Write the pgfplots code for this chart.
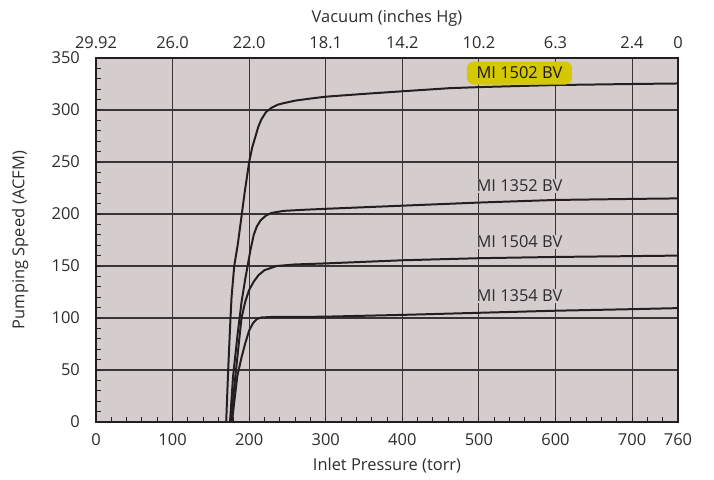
\documentclass[border=0pt]{standalone}
\usepackage{fontspec}
\setmainfont{Open Sans}
\usepackage{pgfplots}
\pgfplotsset{compat=1.18}

\definecolor{plotbg}{RGB}{213,204,206}
\definecolor{hl}{RGB}{212,200,0}
\definecolor{ink}{RGB}{35,31,32}
\definecolor{txt}{RGB}{45,45,45}

\begin{document}
\begin{tikzpicture}
  \pgfplotsset{every axis/.style={
      scale only axis, width=582bp, height=364bp,
      xmin=0, xmax=760, ymin=0, ymax=350,
      font=\fontsize{16.5}{19}\selectfont, text=txt,
      /pgf/number format/assume math mode=true},
    curve/.style={draw=ink, line width=2pt, no markers, line join=round}}
  \begin{axis}[name=main,
      axis background/.style={fill=plotbg},
      axis line style={draw=ink, line width=2.2pt},
      xtick={0,100,...,700,760}, ytick={0,50,...,350},
      minor xtick={20,40,...,740}, minor ytick={10,20,...,340},
      xtick pos=bottom, ytick pos=left,
      tick align=inside, major tick length=0pt, minor tick length=5bp,
      tick style={draw=ink, line width=1pt},
      grid=major, major grid style={draw=ink!90, line width=1.1pt},
      xticklabel style={anchor=center, inner sep=0pt, yshift=-18bp},
      yticklabel style={anchor=east, inner sep=0pt, xshift=-16bp},
      xlabel={Inlet Pressure (torr)}, ylabel={Pumping Speed (ACFM)},
      xlabel style={at={(axis description cs:0.5,-0.1209)}, anchor=center},
      ylabel style={at={(axis description cs:-0.1306,0.5)}, anchor=center, rotate=0}]
    % MI 1502 BV
    \addplot[curve] coordinates {(170,0) (172.6,50) (175,90) (177,120) (180.5,150)
      (185,170) (189,192) (194,220) (200,250) (204,264) (207.6,273) (212,284)
      (216,291) (222,298) (229,302) (237,305) (244.5,306.5) (260,309) (280,311)
      (300,312.8) (350,315.5) (400,318) (462,321) (500,322) (600,324) (700,325) (760,325.5)};
    % MI 1352 BV
    \addplot[curve] coordinates {(175,0) (179,44) (185,85) (190,115) (195,138) (198,150)
      (201.6,165) (206,180) (210,188) (215,194) (222,198.5) (229,201) (245,203)
      (270,204) (300,205) (400,208) (500,211) (600,213.5) (700,214.5) (760,215)};
    % MI 1504 BV
    \addplot[curve] coordinates {(176,0) (182,44) (186,72) (190,100) (195,116) (200,127)
      (206,135) (212,141) (220,146) (236,150) (260,151.5) (300,152.5) (400,155.5)
      (500,157.5) (600,158.7) (700,159.5) (760,160)};
    % MI 1354 BV
    \addplot[curve] coordinates {(177.5,0) (184.5,44) (190,62) (195,76) (200,88) (205,95)
      (210,99) (216,100.5) (230,101) (260,101) (300,101.3) (400,103) (500,105)
      (600,107) (700,108.5) (760,109.5)};
    \node[fill=hl, rounded corners=7bp, minimum width=105bp, minimum height=23bp,
      inner sep=0pt, text=ink!85!black] at (axis cs:553,335.5) {MI 1502 BV};
    \node[fill=plotbg, inner sep=1bp] at (axis cs:553,227) {MI 1352 BV};
    \node[fill=plotbg, inner sep=1bp] at (axis cs:553,173) {MI 1504 BV};
    \node[fill=plotbg, inner sep=1bp] at (axis cs:553,121.5) {MI 1354 BV};
  \end{axis}
  \begin{axis}[
      axis x line*=top, hide y axis,
      axis line style={draw=none},
      xtick={0,100,...,700,760},
      xticklabels={29.92,26.0,22.0,18.1,14.2,10.2,6.3,2.4,0},
      major tick length=0pt,
      xticklabel style={anchor=center, inner sep=0pt, yshift=15bp},
      xlabel={Vacuum (inches Hg)},
      xlabel style={at={(axis description cs:0.5,1.1099)}, anchor=center}]
    \addplot[draw=none] coordinates {(0,0) (760,350)};
  \end{axis}
  \path (main.south west) ++(-96bp,-57bp) rectangle ([shift={(36bp,58bp)}]main.north east);
\end{tikzpicture}
\end{document}
